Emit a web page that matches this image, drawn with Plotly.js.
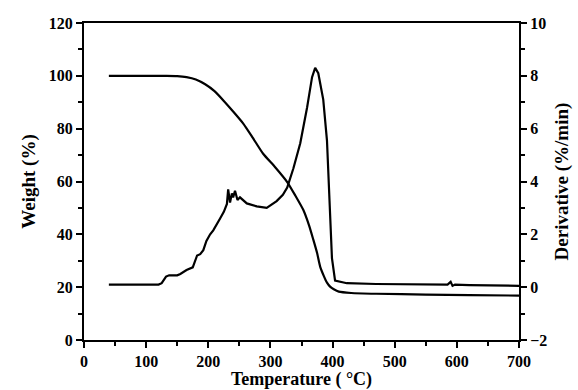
<!DOCTYPE html>
<html>
<head>
<meta charset="utf-8">
<script src="https://cdn.plot.ly/plotly-3.0.1.min.js"></script>
<style>html,body{margin:0;padding:0;background:#fff;}#chart{width:578px;height:390px;}</style>
</head>
<body>
<div id="chart"></div>
<script>
// Weight (TGA) curve, left axis
const tempWeight = [40, 60, 100, 133, 150, 165, 180, 195, 210, 225, 240, 256, 272, 288, 308, 327, 340, 353, 362, 369, 375, 380, 386, 391, 396, 402, 410, 430, 470, 550, 620, 700];
const weight     = [100, 100, 100, 100, 99.9, 99.5, 98.6, 96.8, 94.2, 90.5, 86.5, 82, 76.4, 70.6, 65.3, 59.8, 54.7, 49.2, 43.5, 38, 33, 27.8, 24.2, 21.7, 20.2, 19.2, 18.3, 17.8, 17.5, 17.2, 17.0, 16.8];

// Derivative (DTG) curve, right axis
const tempDeriv = [40, 80, 120, 125, 132, 137, 150, 155, 165, 175, 182, 187, 192, 197, 203, 208, 212, 219, 225, 230, 232, 235, 238, 240, 243, 247, 251, 262, 278, 294, 310, 320, 327, 337, 348, 359, 367, 372, 377, 385, 391, 396, 399, 404, 412, 423, 470, 550, 585, 590, 593, 597, 620, 700];
const deriv     = [0.1, 0.1, 0.1, 0.15, 0.4, 0.45, 0.45, 0.5, 0.65, 0.75, 1.2, 1.25, 1.4, 1.75, 2.0, 2.15, 2.3, 2.6, 2.85, 3.15, 3.7, 3.2, 3.55, 3.4, 3.65, 3.3, 3.4, 3.17, 3.06, 3.0, 3.26, 3.5, 3.77, 4.5, 5.45, 6.8, 7.95, 8.3, 8.1, 7.1, 5.55, 3.0, 1.1, 0.25, 0.2, 0.15, 0.12, 0.1, 0.1, 0.2, 0.05, 0.1, 0.08, 0.05];

const xTickVals = [0, 100, 200, 300, 400, 500, 600, 700];
const yTickVals = [0, 20, 40, 60, 80, 100, 120];
const y2TickVals = [-2, 0, 2, 4, 6, 8, 10];

const fontFam = '"Liberation Serif", "DejaVu Serif", serif';

const traces = [
  {x: tempWeight, y: weight, type: 'scatter', mode: 'lines', yaxis: 'y',
   line: {color: '#000', width: 2.2, shape: 'spline', smoothing: 0.6}, hoverinfo: 'skip'},
  {x: tempDeriv, y: deriv, type: 'scatter', mode: 'lines', yaxis: 'y2',
   line: {color: '#000', width: 2.2}, hoverinfo: 'skip'}
];

const axisCommon = {
  showline: true, linecolor: '#000', linewidth: 2,
  ticks: 'outside', ticklen: 6, tickwidth: 2, tickcolor: '#000',
  showgrid: false, zeroline: false,
  tickfont: {family: fontFam, size: 16, color: '#000', weight: 'bold'}
};

const layout = {
  width: 578, height: 390,
  margin: {l: 84, r: 59, t: 23, b: 50},
  paper_bgcolor: '#fff', plot_bgcolor: '#fff',
  showlegend: false,
  font: {family: fontFam, color: '#000'},
  xaxis: Object.assign({}, axisCommon, {
    range: [0, 700], tickvals: xTickVals, mirror: true,
    minor: {dtick: 50, ticks: 'outside', ticklen: 4, tickwidth: 2, tickcolor: '#000'},
    ticklabelstandoff: 0,
    title: {text: 'Temperature ( °C)', standoff: 3,
            font: {family: fontFam, size: 18, color: '#000', weight: 'bold'}}
  }),
  yaxis: Object.assign({}, axisCommon, {
    range: [0, 120], tickvals: yTickVals,
    minor: {dtick: 10, ticks: 'outside', ticklen: 4, tickwidth: 2, tickcolor: '#000'},
    title: {text: 'Weight (%)', standoff: 8,
            font: {family: fontFam, size: 19, color: '#000', weight: 'bold'}}
  }),
  yaxis2: Object.assign({}, axisCommon, {
    range: [-2, 10], tickvals: y2TickVals, overlaying: 'y', side: 'right',
    minor: {dtick: 1, ticks: 'outside', ticklen: 4, tickwidth: 2, tickcolor: '#000'},
    title: {text: 'Derivative (%/min)', standoff: 8,
            font: {family: fontFam, size: 19, color: '#000', weight: 'bold'}}
  })
};

Plotly.newPlot('chart', traces, layout, {staticPlot: true, displayModeBar: false});
</script>
</body>
</html>
